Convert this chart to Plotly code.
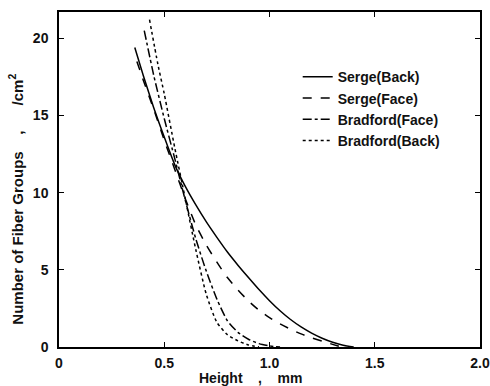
import plotly.graph_objects as go

# Data
serge_back_x = [0.36, 0.40, 0.45, 0.50, 0.55, 0.60, 0.65, 0.70, 0.75, 0.80, 0.85, 0.90, 0.95, 1.00, 1.05, 1.10, 1.15, 1.20, 1.25, 1.30, 1.35, 1.40]
serge_back_y = [19.4, 17.6, 15.5, 13.6, 11.8, 10.4, 9.2, 8.1, 7.1, 6.15, 5.3, 4.5, 3.72, 3.0, 2.35, 1.78, 1.3, 0.9, 0.57, 0.31, 0.11, 0.0]

serge_face_x = [0.37, 0.40, 0.45, 0.50, 0.55, 0.60, 0.65, 0.70, 0.75, 0.80, 0.85, 0.90, 0.95, 1.00, 1.05, 1.10, 1.15, 1.20, 1.25, 1.30, 1.33]
serge_face_y = [18.5, 17.3, 15.4, 13.4, 11.5, 9.6, 7.9, 6.6, 5.5, 4.5, 3.7, 2.98, 2.38, 1.9, 1.5, 1.15, 0.85, 0.6, 0.38, 0.17, 0.05]

bradford_face_x = [0.405, 0.45, 0.50, 0.55, 0.60, 0.65, 0.70, 0.75, 0.80, 0.85, 0.90, 0.95, 1.00, 1.05]
bradford_face_y = [20.5, 17.6, 14.8, 12.2, 9.5, 7.0, 4.9, 3.1, 1.7, 0.95, 0.5, 0.22, 0.07, 0.0]

bradford_back_x = [0.43, 0.47, 0.50, 0.55, 0.60, 0.65, 0.70, 0.75, 0.80, 0.85, 0.90, 0.95]
bradford_back_y = [21.2, 18.3, 16.4, 12.9, 9.6, 6.3, 3.4, 1.6, 0.8, 0.4, 0.13, 0.0]

x_ticks = [0, 0.5, 1.0, 1.5, 2.0]
x_tick_labels = ["0", "0.5", "1.0", "1.5", "2.0"]
y_ticks = [0, 5, 10, 15, 20]

x_title = "Height\u00a0\u00a0\u00a0\u00a0,\u00a0\u00a0\u00a0\u00a0mm"
y_title = "Number of Fiber Groups\u00a0\u00a0\u00a0\u00a0,\u00a0\u00a0\u00a0\u00a0\u00a0\u00a0/cm<sup>2</sup>"

series = [
    ("Serge(Back)", serge_back_x, serge_back_y, "solid"),
    ("Serge(Face)", serge_face_x, serge_face_y, "dash"),
    ("Bradford(Face)", bradford_face_x, bradford_face_y, "dashdot"),
    ("Bradford(Back)", bradford_back_x, bradford_back_y, "dot"),
]

fig = go.Figure()
for name, xs, ys, dash in series:
    fig.add_trace(go.Scatter(
        x=xs, y=ys, mode="lines", name=name,
        line=dict(color="black", width=1.5, dash=dash, shape="spline", smoothing=0.6),
    ))

font = dict(family="Liberation Sans, Arial, sans-serif", color="#111", size=14, weight="bold")

fig.update_layout(
    width=490, height=386,
    margin=dict(l=59, r=10, t=12, b=39),
    paper_bgcolor="white", plot_bgcolor="white",
    font=font,
    showlegend=True,
    legend=dict(
        x=0.567, y=0.853, xanchor="left", yanchor="top",
        bgcolor="rgba(0,0,0,0)", font=dict(size=14, color="#111", weight="bold"),
        itemwidth=30, tracegroupgap=0,
    ),
    xaxis=dict(
        range=[0, 2.0], tickvals=x_ticks, ticktext=x_tick_labels,
        showgrid=False, zeroline=False, automargin=False,
        showline=True, linecolor="black", linewidth=1.5, mirror="ticks",
        ticks="inside", ticklen=5, tickcolor="black", tickwidth=1.2,
        ticklabelstandoff=2,
    ),
    yaxis=dict(
        range=[0, 21.7], tickvals=y_ticks,
        showgrid=False, zeroline=False, automargin=False,
        showline=True, linecolor="black", linewidth=1.5, mirror="ticks",
        ticks="inside", ticklen=5, tickcolor="black", tickwidth=1.2,
        ticklabelstandoff=6,
    ),
    annotations=[
        dict(text=x_title, xref="paper", yref="paper", x=0.454, y=-0.092,
             xanchor="center", yanchor="middle", showarrow=False,
             font=dict(size=14, color="#111", weight="bold")),
        dict(text=y_title, xref="paper", yref="paper", x=-0.102, y=0.44,
             xanchor="center", yanchor="middle", showarrow=False, textangle=-90,
             font=dict(size=15, color="#111", weight="bold")),
    ],
)

fig.write_html("out.html", config={"displayModeBar": False},
               post_script="document.body.style.margin='0';")
